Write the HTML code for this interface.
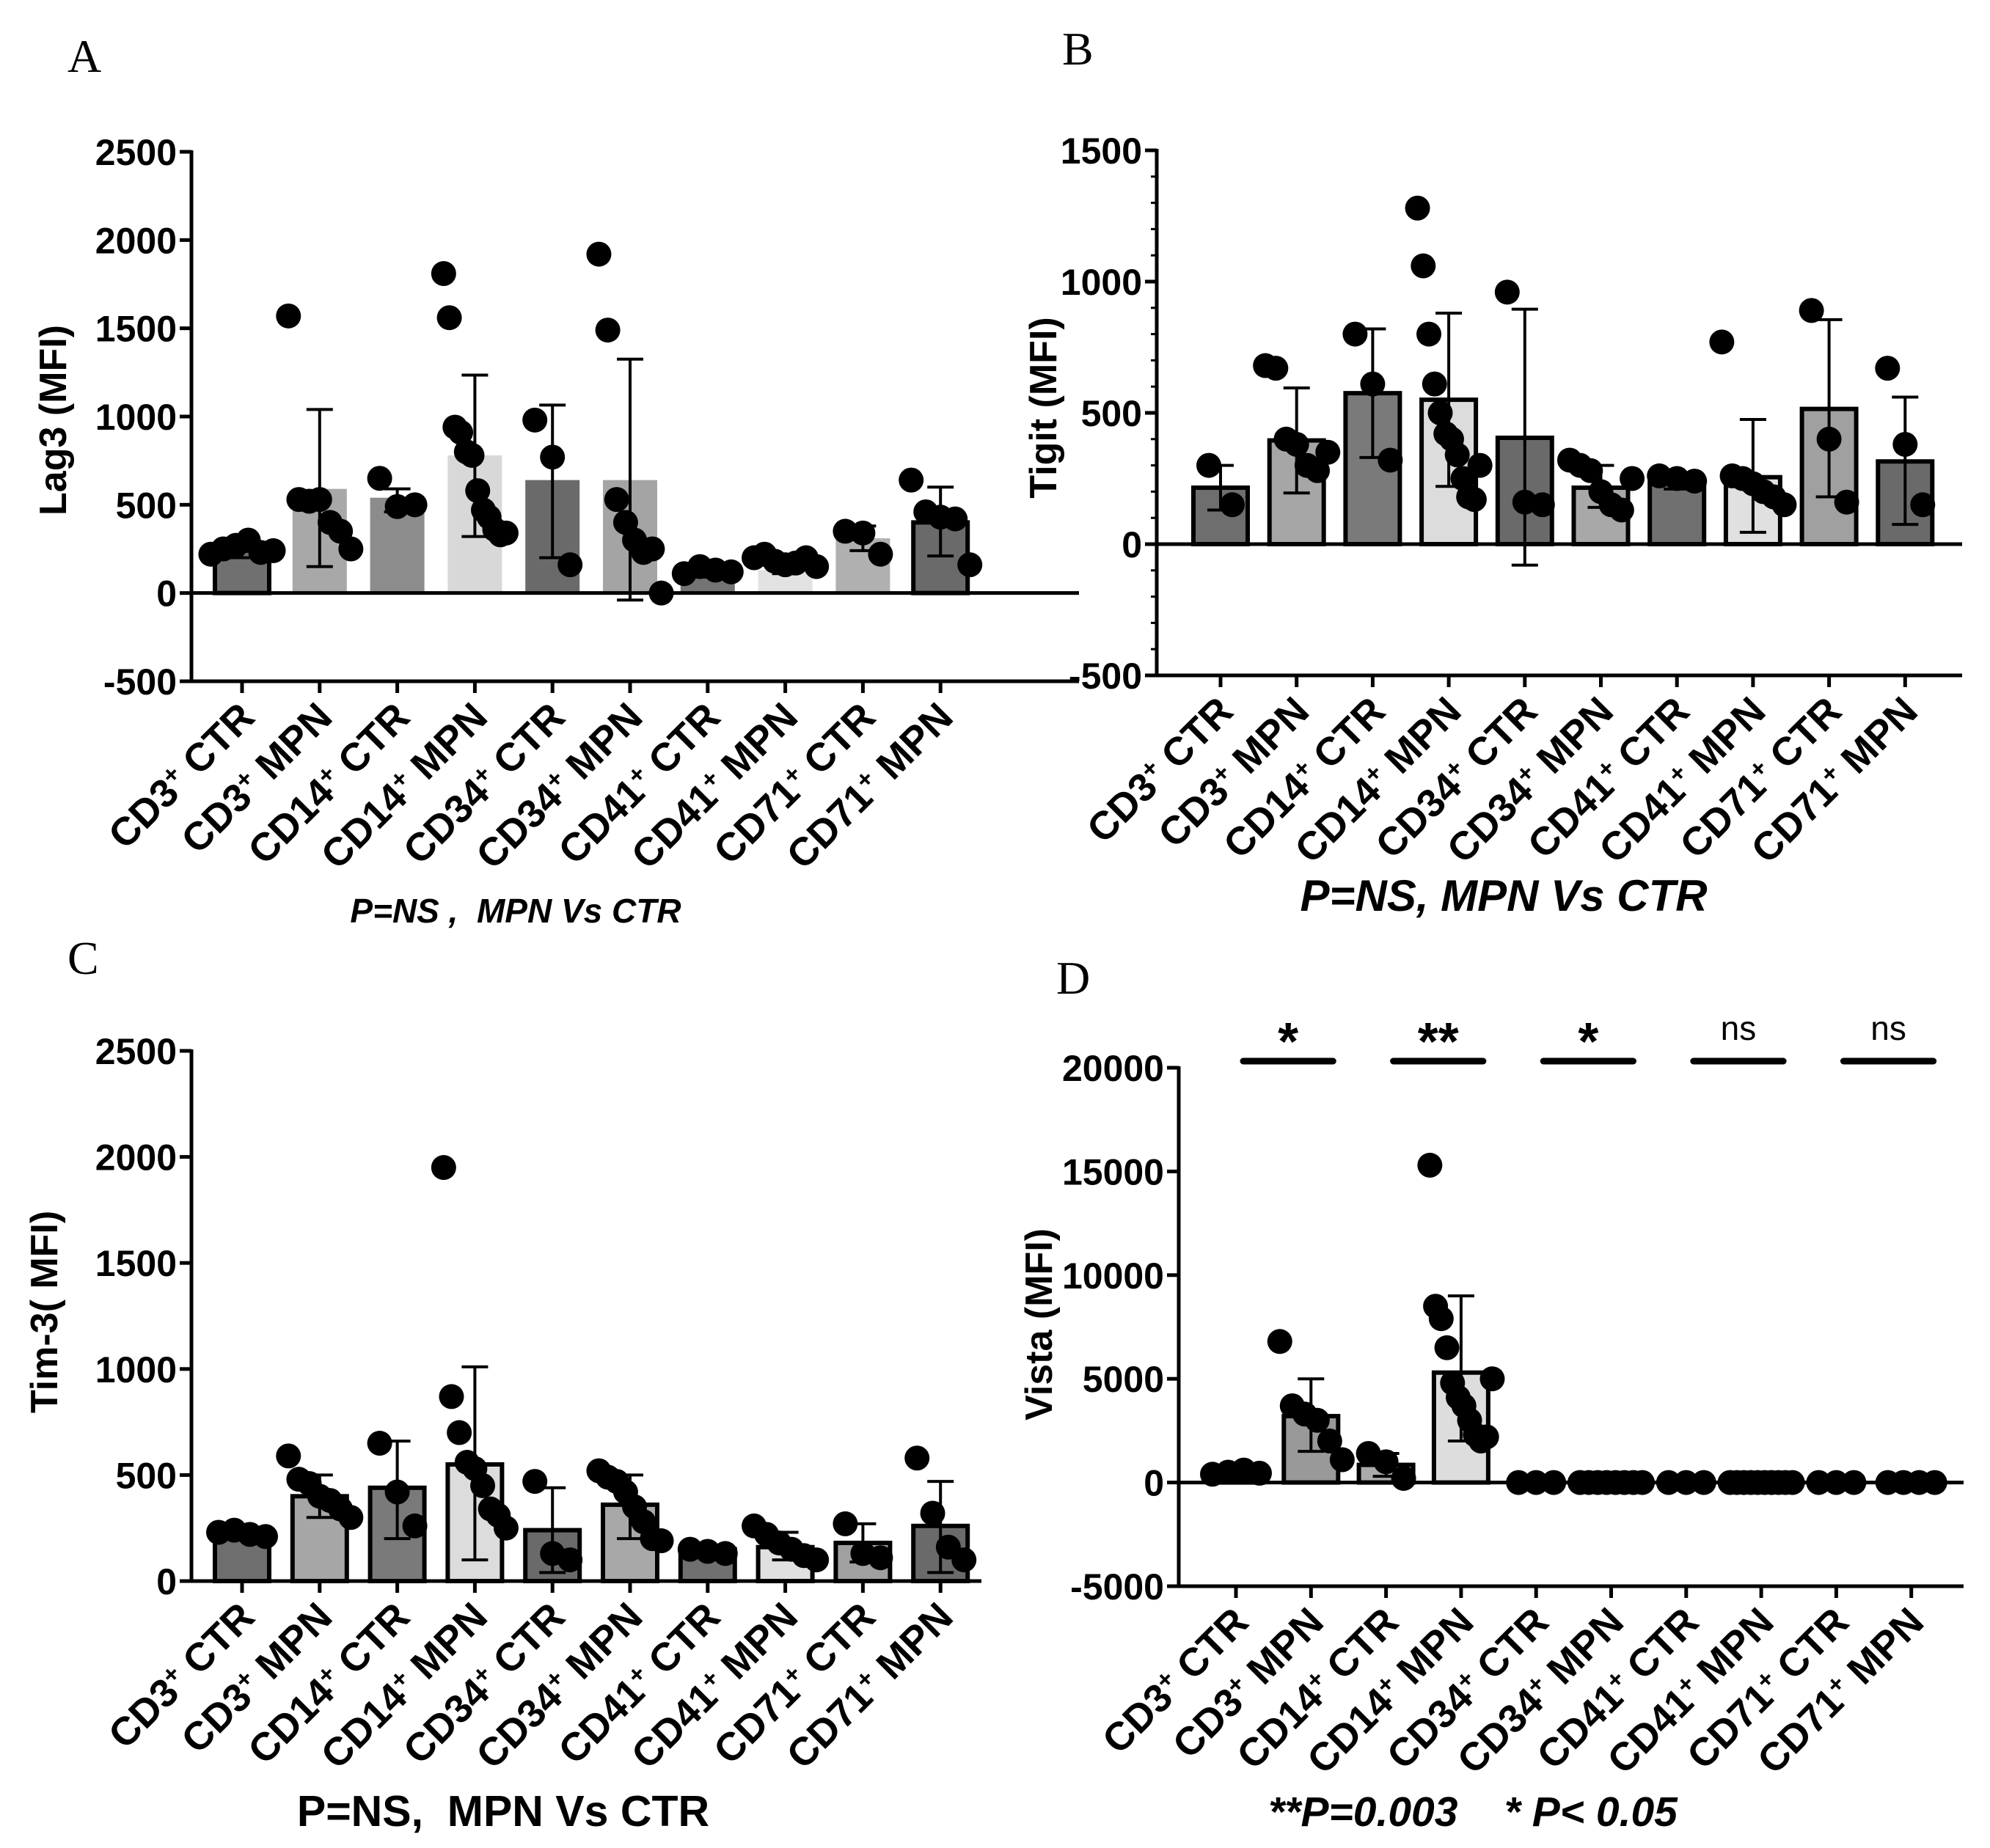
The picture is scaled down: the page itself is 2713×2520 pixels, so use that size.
<!DOCTYPE html>
<html><head><meta charset="utf-8"><style>
html,body{margin:0;padding:0;background:#fff;}
svg{display:block;font-family:"Liberation Sans",Arial,sans-serif;}
</style></head><body>
<svg id="fig" width="2713" height="2520" viewBox="0 0 2713 2520" xmlns="http://www.w3.org/2000/svg">
<text x="92" y="98" font-family="Liberation Serif" font-size="64">A</text>
<text x="1448" y="88" font-family="Liberation Serif" font-size="64">B</text>
<text x="92" y="1328" font-family="Liberation Serif" font-size="64">C</text>
<text x="1440" y="1355" font-family="Liberation Serif" font-size="64">D</text>
<text x="703" y="1258" text-anchor="middle" font-size="46" font-weight="bold" font-style="italic" xml:space="preserve">P=NS ,  MPN Vs CTR</text>
<text x="2050" y="1242" text-anchor="middle" font-size="60" font-weight="bold" font-style="italic">P=NS, MPN Vs CTR</text>
<text x="686" y="2490" text-anchor="middle" font-size="59" font-weight="bold" xml:space="preserve">P=NS,  MPN Vs CTR</text>
<text x="2008" y="2490" text-anchor="middle" font-size="57" font-weight="bold" font-style="italic" xml:space="preserve">**P=0.003    * P&lt; 0.05</text>
</svg>
<script>
const categories = ["CD3","CD3","CD14","CD14","CD34","CD34","CD41","CD41","CD71","CD71"];
const groups = ["CTR","MPN","CTR","MPN","CTR","MPN","CTR","MPN","CTR","MPN"];
const lag3Means = [240,590,540,780,640,640,120,130,310,400];
const lag3Lo = [200,150,460,320,200,-40,90,110,240,210];
const lag3Hi = [280,1040,590,1235,1065,1325,150,200,380,600];
const lag3Pts = [[220,250,270,300,230,240],[1570,530,520,530,400,350,250],[650,490,500],[1810,1560,940,910,800,780,580,470,430,360,330,340],[980,770,160],[1920,1490,530,400,300,230,250,0],[110,150,130,120],[200,220,180,160,170,200,150],[350,340,220],[640,460,430,420,160]];
const tigitMeans = [215,395,575,550,405,215,235,255,515,315];
const tigitLo = [130,195,330,220,-80,140,210,45,180,75];
const tigitHi = [300,595,820,880,895,300,260,475,855,560];
const tigitPts = [[300,150],[680,670,400,380,300,280,350],[800,610,320],[1280,1060,800,610,500,420,400,340,250,180,170,300],[960,160,150],[320,300,280,200,150,130,250],[260,250,240],[770,260,250,230,200,180,150],[890,400,160],[670,380,150]];
const tim3Means = [230,400,440,550,240,360,150,160,180,260];
const tim3Lo = [210,300,200,100,40,200,130,100,90,40];
const tim3Hi = [250,500,660,1010,440,500,170,230,270,470];
const tim3Pts = [[230,240,220,210],[590,480,460,400,380,340,300],[650,420,260],[1950,870,700,560,530,450,340,310,250],[470,130,100],[520,490,470,420,350,280,200,190],[150,140,130],[260,220,180,150,120,100],[270,130,110],[580,320,160,100]];
const vistaMeans = [400,3200,850,5300,0,0,0,0,0,0];
const vistaLo = [400,1500,300,2000,0,0,0,0,0,0];
const vistaHi = [400,5000,1400,9000,0,0,0,0,0,0];
const vistaPts = [[400,500,600,450],[6800,3700,3300,3000,2000,1100],[1400,1000,200],[15300,8500,7900,6500,4800,4100,3700,3000,2300,2000,2200,5000],[0,0,0],[0,0,0,0,0,0,0,0],[0,0,0],[0,0,0,0,0,0,0,0,0,0],[0,0,0],[0,0,0,0]];
const lag3Ticks = [-500,0,500,1000,1500,2000,2500];
const tigitTicks = [-500,0,500,1000,1500];
const tim3Ticks = [0,500,1000,1500,2000,2500];
const vistaTicks = [-5000,0,5000,10000,15000,20000];
const sigLabels = ["*","**","*","ns","ns"];

const NS="http://www.w3.org/2000/svg";
const svg=document.getElementById('fig');
function el(tag,attrs,parent){const e=document.createElementNS(NS,tag);for(const k in attrs)e.setAttribute(k,attrs[k]);(parent||svg).appendChild(e);return e;}
const fills=["#707070","#a8a8a8","#8c8c8c","#d8d8d8","#6a6a6a","#a4a4a4","#747474","#e2e2e2","#b0b0b0","#6a6a6a"];
const outlined=[true,false,false,false,false,false,false,false,false,true];

function panel(cfg){
  const g=el('g',{});
  
  
  const yS=v=>cfg.y0+(v-cfg.vmin)/(cfg.vmax-cfg.vmin)*(cfg.y1-cfg.y0);
  const xS=i=>cfg.cx0+i*cfg.step;
  const zeroY=yS(0), bw=cfg.bw||74;
  cfg.means.forEach((m,i)=>{
    const top=Math.min(yS(m),zeroY),h=Math.abs(yS(m)-zeroY);
    const fc=(cfg.fills||fills)[i];
    const r=el('rect',{x:xS(i)-bw/2,y:top,width:bw,height:h,fill:fc,stroke:(cfg.outlined||outlined)[i]?'#000':'none','stroke-width':6},g);
    
    
  });
  cfg.means.forEach((m,i)=>{
    if(cfg.hi[i]===cfg.lo[i])return;
    const x=xS(i);
    const eg=el('g',{stroke:'#000','stroke-width':4},g);
    
    
    el('line',{x1:x,x2:x,y1:yS(cfg.lo[i]),y2:yS(cfg.hi[i])},eg);
    el('line',{x1:x-18,x2:x+18,y1:yS(cfg.hi[i]),y2:yS(cfg.hi[i])},eg);
    el('line',{x1:x-18,x2:x+18,y1:yS(cfg.lo[i]),y2:yS(cfg.lo[i])},eg);
  });
  cfg.pts.forEach((arr,i)=>{
    const n=arr.length;
    arr.forEach((v,j)=>{
      const off=n>1?(j/(n-1)-0.5)*Math.min(bw*1.15,n*16):0;
      const c=el('circle',{cx:xS(i)+off,cy:yS(v),r:17,fill:'#000'},g);
      
      
    });
  });
  const ax=el('g',{stroke:'#000','stroke-width':5,fill:'none'},g);
  
  
  el('line',{x1:cfg.ax,x2:cfg.ax,y1:yS(cfg.vmax)-2,y2:cfg.y0+2},ax);
  el('line',{x1:cfg.ax,x2:cfg.axR,y1:cfg.y0,y2:cfg.y0},ax);
  if(cfg.vmin<0) el('line',{x1:cfg.ax,x2:cfg.axR,y1:zeroY,y2:zeroY},ax);
  if(cfg.minor){for(let v=cfg.vmin;v<=cfg.vmax;v+=cfg.minor){el('line',{x1:cfg.ax-8,x2:cfg.ax,y1:yS(v),y2:yS(v),'stroke-width':3},ax);}}
  cfg.ticks.forEach(t=>{
    el('line',{x1:cfg.ax-16,x2:cfg.ax,y1:yS(t),y2:yS(t)},ax);
    const tx=el('text',{x:cfg.ax-20,y:yS(t)+18,'text-anchor':'end','font-size':50,'font-weight':'bold',fill:'#000',stroke:'none'},g);
    tx.textContent=t;
    
    
  });
  categories.forEach((c,i)=>{
    el('line',{x1:xS(i),x2:xS(i),y1:cfg.y0,y2:cfg.y0+16},ax);
    const tx=el('text',{transform:`translate(${xS(i)+20},${cfg.y0+52}) rotate(-45)`,'text-anchor':'end','font-size':54,'font-weight':'bold',fill:'#000',stroke:'none'},g);
    tx.innerHTML=c+'<tspan dy="-18" font-size="34">+</tspan><tspan dy="18"> '+groups[i]+'</tspan>';
    
    
  });
  const yt=el('text',{transform:`translate(${cfg.tx},${cfg.ty}) rotate(-90)`,'text-anchor':'middle','font-size':52,'font-weight':'bold'},g);
  yt.textContent=cfg.title;
  
  
  return {g,yS,xS};
}

panel({name:'panel-a-lag3',means:lag3Means,lo:lag3Lo,hi:lag3Hi,pts:lag3Pts,ticks:lag3Ticks,vmin:-500,vmax:2500,y0:929,y1:207,ax:261,axR:1471,cx0:330,step:105.8,title:'Lag3 (MFI)',tx:90,ty:573});
panel({name:'panel-b-tigit',means:tigitMeans,lo:tigitLo,hi:tigitHi,pts:tigitPts,ticks:tigitTicks,vmin:-500,vmax:1500,y0:921,y1:205,ax:1577,axR:2675,cx0:1664,step:103.7,minor:100,title:'Tigit (MFI)',tx:1440,ty:556,
  outlined:[true,true,true,true,true,true,true,true,true,true],fills:["#6e6e6e","#a6a6a6","#7a7a7a","#dcdcdc","#6a6a6a","#a8a8a8","#707070","#e0e0e0","#a0a0a0","#6a6a6a"]});
panel({name:'panel-c-tim3',means:tim3Means,lo:tim3Lo,hi:tim3Hi,pts:tim3Pts,ticks:tim3Ticks,vmin:0,vmax:2500,y0:2156,y1:1433,ax:261,axR:1338,cx0:330,step:105.8,title:'Tim-3( MFI)',tx:78,ty:1789,
  outlined:[true,true,true,true,true,true,true,true,true,true],fills:["#6e6e6e","#a6a6a6","#7a7a7a","#dcdcdc","#6a6a6a","#a8a8a8","#707070","#e0e0e0","#a0a0a0","#6a6a6a"]});
const pd=panel({name:'panel-d-vista',means:vistaMeans,lo:vistaLo,hi:vistaHi,pts:vistaPts,ticks:vistaTicks,vmin:-5000,vmax:20000,y0:2163,y1:1456,ax:1607,axR:2677,cx0:1685,step:102.3,title:'Vista (MFI)',tx:1434,ty:1806,
  outlined:[true,true,true,true,true,true,true,true,true,true],fills:["#777","#999","#aaa","#ddd","#777","#999","#777","#ddd","#aaa","#777"]});
sigLabels.forEach((s,k)=>{
  const a=pd.xS(2*k)+10,b=pd.xS(2*k+1)+30;
  const y=1447;
  const l=el('line',{x1:a,x2:b,y1:y,y2:y,stroke:'#000','stroke-width':9,'stroke-linecap':'round'});
  
  
  const t=el('text',{x:(a+b)/2,y:s==='ns'?1418:1445,'text-anchor':'middle','font-size':s==='ns'?46:72,'font-weight':s==='ns'?'normal':'bold'});
  t.textContent=s;
  
  
});
</script>
</body></html>
